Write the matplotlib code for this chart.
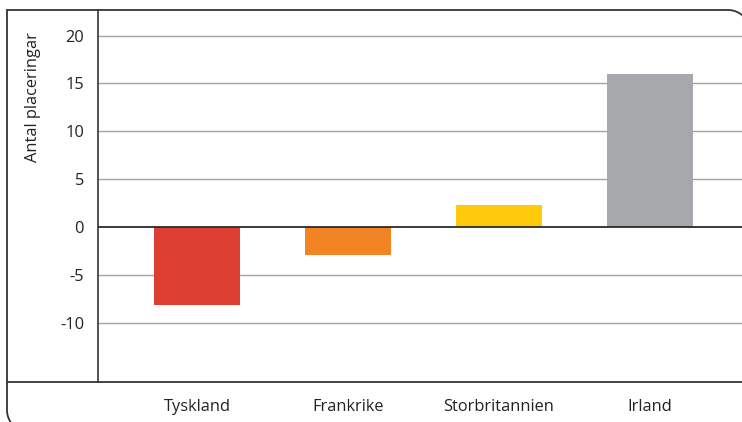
import numpy as np
import matplotlib
matplotlib.use("Agg")
import matplotlib.pyplot as plt
from matplotlib.path import Path
from matplotlib.patches import PathPatch
from matplotlib.transforms import Affine2D

categories = ["Tyskland", "Frankrike", "Storbritannien", "Irland"]
values = [-8.2, -2.9, 2.3, 16.0]
colors = ["#DC3F32", "#F38424", "#FFC90C", "#A7A8AB"]
yticks = [-10, -5, 0, 5, 10, 15, 20]
ylabel = "Antal placeringar"

W, H = 742, 422
plt.rcParams['font.family'] = ['Open Sans', 'DejaVu Sans']
fig = plt.figure(figsize=(W / 100, H / 100), dpi=100)

# axes: x from 98px to right edge, y from 10px to 382px
ax = fig.add_axes([98 / W, (H - 382) / H, (W - 98) / W, (382 - 10) / H])
x = np.arange(len(categories))
ax.set_xlim(-0.656, 3.609)
ax.set_ylim(-16.2, 22.67)

for t in yticks:
    if t != 0:
        ax.axhline(t, color="#A3A3A3", lw=1.0, zorder=1)
ax.bar(x, values, width=0.57, color=colors, zorder=2)
ax.axhline(0, color="#2B2B2B", lw=1.3, zorder=3)

fs = 11.8
ax.set_yticks(yticks)
ax.set_yticklabels([str(t) for t in yticks], fontsize=fs, color="#222222")
ax.set_xticks(x)
ax.set_xticklabels(categories, fontsize=fs, color="#222222")
ax.tick_params(axis="both", length=0)
ax.tick_params(axis="y", pad=10)
ax.tick_params(axis="x", pad=12)
for s in ["top", "right", "bottom"]:
    ax.spines[s].set_visible(False)
ax.spines["left"].set_color("#444444")
ax.spines["left"].set_linewidth(1.3)

fig.text(33 / W, (H - 97) / H, ylabel, rotation=90, ha="center", va="center",
         fontsize=fs, color="#222222")

# pixel (top-left origin) -> figure transform
pix = Affine2D().scale(1 / W, -1 / H).translate(0, 1) + fig.transFigure

# bottom horizontal line
fig.add_artist(PathPatch(Path([(7, 382), (W + 5, 382)]), transform=pix,
                         fill=False, ec="#333333", lw=1.3))

# rounded frame (partially outside the figure)
r = 22
cx, cy = 7 + r, 432 - r
verts = [(cx + r * np.cos(a), cy + r * np.sin(a)) for a in np.linspace(np.pi / 2, np.pi, 20)]
verts += [(7, 10), (750 - r, 10)]
cx2, cy2 = 750 - r, 10 + r
verts += [(cx2 + r * np.cos(a), cy2 - r * np.sin(a)) for a in np.linspace(np.pi / 2, 0, 20)]
fig.add_artist(PathPatch(Path(verts), transform=pix, fill=False,
                         ec="#333333", lw=1.3))

fig.savefig("out.png", dpi=100)
